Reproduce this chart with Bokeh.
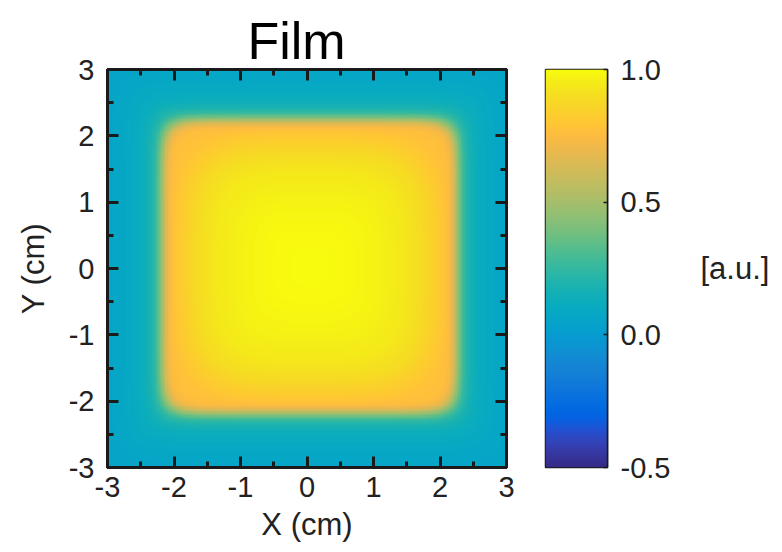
import numpy as np
from bokeh.plotting import figure
from bokeh.models import (LinearColorMapper, LinearAxis, FixedTicker, Range1d,
                          PrintfTickFormatter, CustomJSTickFormatter)
from bokeh.layouts import row
from bokeh.embed import file_html
from bokeh.resources import INLINE

# ---------------- texts / ticks ----------------
title_text = "Film"
x_label = "X (cm)"
y_label = "Y (cm)"
cbar_label = "[a.u.]"
axis_ticks = [-3, -2, -1, 0, 1, 2, 3]
axis_minor_ticks = [-2.5, -1.5, -0.5, 0.5, 1.5, 2.5]
cbar_ticks = [-0.5, 0.0, 0.5, 1.0]
value_low, value_high = -0.5, 1.0

# ---------------- field values ----------------
field_center_x = 0.04
field_center_y = 0.03
# in-field dose vs (rounded) distance from centre
dome_r = [0.0, 0.5, 1.0, 1.4, 1.7, 1.9, 2.1, 2.5, 4.5]
dome_val = [1.0, 0.99, 0.97, 0.94, 0.89, 0.83, 0.78, 0.76, 0.74]
# penumbra: fraction of in-field dose vs (rounded square) distance
pen_pos = [0.0, 1.95, 2.05, 2.12, 2.18, 2.22, 2.27, 2.33, 2.40, 2.50, 4.5]
pen_frac = [1.0, 1.0, 0.98, 0.92, 0.72, 0.50, 0.30, 0.12, 0.04, 0.0, 0.0]
# out-of-field level vs (rounded square) distance
bg_pos = [0.0, 2.2, 2.4, 2.6, 2.8, 3.0, 4.5]
bg_val = [0.22, 0.22, 0.16, 0.11, 0.08, 0.06, 0.05]

# ---------------- parula colormap ----------------
parula64 = [
    (0.2081, 0.1663, 0.5292), (0.2116, 0.1898, 0.5777), (0.2123, 0.2138, 0.6270),
    (0.2081, 0.2386, 0.6771), (0.1959, 0.2645, 0.7279), (0.1707, 0.2919, 0.7792),
    (0.1253, 0.3242, 0.8303), (0.0591, 0.3598, 0.8683), (0.0117, 0.3875, 0.8820),
    (0.0060, 0.4086, 0.8828), (0.0165, 0.4266, 0.8786), (0.0329, 0.4430, 0.8720),
    (0.0498, 0.4586, 0.8641), (0.0629, 0.4737, 0.8554), (0.0723, 0.4887, 0.8467),
    (0.0779, 0.5040, 0.8384), (0.0793, 0.5200, 0.8312), (0.0749, 0.5375, 0.8263),
    (0.0641, 0.5570, 0.8240), (0.0488, 0.5772, 0.8228), (0.0343, 0.5966, 0.8199),
    (0.0265, 0.6137, 0.8135), (0.0239, 0.6287, 0.8038), (0.0231, 0.6418, 0.7913),
    (0.0228, 0.6535, 0.7768), (0.0267, 0.6642, 0.7607), (0.0384, 0.6743, 0.7436),
    (0.0590, 0.6838, 0.7254), (0.0843, 0.6928, 0.7062), (0.1133, 0.7015, 0.6859),
    (0.1453, 0.7098, 0.6646), (0.1801, 0.7177, 0.6424), (0.2178, 0.7250, 0.6193),
    (0.2586, 0.7317, 0.5954), (0.3022, 0.7376, 0.5712), (0.3482, 0.7424, 0.5473),
    (0.3953, 0.7459, 0.5244), (0.4420, 0.7481, 0.5033), (0.4871, 0.7491, 0.4840),
    (0.5300, 0.7491, 0.4661), (0.5709, 0.7485, 0.4494), (0.6099, 0.7473, 0.4337),
    (0.6473, 0.7456, 0.4188), (0.6834, 0.7435, 0.4044), (0.7184, 0.7411, 0.3905),
    (0.7525, 0.7384, 0.3768), (0.7858, 0.7356, 0.3633), (0.8185, 0.7327, 0.3498),
    (0.8507, 0.7299, 0.3360), (0.8824, 0.7274, 0.3217), (0.9139, 0.7258, 0.3063),
    (0.9450, 0.7261, 0.2886), (0.9739, 0.7314, 0.2666), (0.9938, 0.7455, 0.2403),
    (0.9990, 0.7653, 0.2164), (0.9955, 0.7861, 0.1967), (0.9880, 0.8066, 0.1794),
    (0.9789, 0.8271, 0.1633), (0.9697, 0.8481, 0.1475), (0.9626, 0.8705, 0.1309),
    (0.9589, 0.8949, 0.1132), (0.9598, 0.9218, 0.0948), (0.9661, 0.9514, 0.0755),
    (0.9763, 0.9831, 0.0538)]
_p = np.array(parula64)
_t = np.linspace(0, 63, 256)
_rgb = np.stack([np.interp(_t, np.arange(64), _p[:, k]) for k in range(3)], axis=1)
palette = ["#%02x%02x%02x" % tuple(int(round(c * 255)) for c in col) for col in _rgb]

mapper = LinearColorMapper(palette=palette, low=value_low, high=value_high)

# ---------------- 2-D field built from the read profiles ----------------
grid = np.linspace(-3, 3, 301)
GX, GY = np.meshgrid(grid, grid)
dx = np.abs(GX - field_center_x)
dy = np.abs(GY - field_center_y)
r_sq = (dx ** 12 + dy ** 12) ** (1.0 / 12.0)
r_4 = (dx ** 4 + dy ** 4) ** (1.0 / 4.0)
bg = np.interp(r_sq, bg_pos, bg_val)
Z = bg + np.interp(r_sq, pen_pos, pen_frac) * (np.interp(r_4, dome_r, dome_val) - bg)

FONT = "Liberation Sans"
TICK_FS = "29px"
LABEL_FS = "31px"
INK = "#222222"
FRAME = "#1a1a1a"

# ---------------- main map ----------------
p = figure(width=530, height=552, x_range=Range1d(-3, 3), y_range=Range1d(-3, 3),
           min_border_left=107, min_border_right=24, min_border_top=67, min_border_bottom=85,
           toolbar_location=None, output_backend="svg", tools="",
           title=title_text)
p.image(image=[Z], x=-3, y=-3, dw=6, dh=6, color_mapper=mapper)
p.grid.visible = False
p.outline_line_color = FRAME
p.outline_line_width = 3
p.background_fill_color = "white"
p.border_fill_color = "white"

p.title.text_font = FONT
p.title.text_font_size = "52px"
p.title.text_font_style = "normal"
p.title.text_color = "black"
p.title.align = "left"
p.title.offset = 140
p.title.standoff = 0

bottom_axis = p.below[0]
left_axis = p.left[0]
top_axis = LinearAxis()
right_axis = LinearAxis()
p.add_layout(top_axis, "above")
p.add_layout(right_axis, "right")
for ax in (bottom_axis, left_axis, top_axis, right_axis):
    ax.ticker = FixedTicker(ticks=axis_ticks, minor_ticks=axis_minor_ticks)
    ax.formatter = PrintfTickFormatter(format="%d")
    ax.major_tick_in = 11
    ax.major_tick_out = 0
    ax.minor_tick_in = 6
    ax.minor_tick_out = 0
    ax.major_tick_line_width = 3
    ax.minor_tick_line_width = 3
    ax.major_tick_line_color = FRAME
    ax.minor_tick_line_color = FRAME
    ax.axis_line_width = 3
    ax.axis_line_color = FRAME
    ax.major_label_text_font = FONT
    ax.major_label_text_font_size = TICK_FS
    ax.major_label_text_color = INK
    ax.axis_label_text_font = FONT
    ax.axis_label_text_font_size = LABEL_FS
    ax.axis_label_text_font_style = "normal"
    ax.axis_label_text_color = INK
for ax in (top_axis, right_axis):
    ax.formatter = CustomJSTickFormatter(code="return ''")
    ax.major_label_standoff = 0

bottom_axis.major_label_standoff = 9
bottom_axis.axis_label = x_label
bottom_axis.axis_label_standoff = 7
left_axis.major_label_standoff = 13
left_axis.axis_label = y_label
left_axis.axis_label_standoff = 15

# ---------------- colour bar ----------------
cb = figure(width=252, height=552, x_range=Range1d(0, 1), y_range=Range1d(value_low, value_high),
            min_border_left=15, min_border_right=175, min_border_top=69, min_border_bottom=84,
            toolbar_location=None, output_backend="svg", tools="",
            x_axis_location=None, y_axis_location="right")
levels = np.linspace(value_low, value_high, 256).reshape(256, 1)
cb.image(image=[levels], x=0, y=value_low, dw=1, dh=value_high - value_low, color_mapper=mapper)
cb.grid.visible = False
cb.outline_line_color = FRAME
cb.outline_line_width = 1.5
cb.border_fill_color = "white"
ya = cb.right[0]
ya.ticker = FixedTicker(ticks=cbar_ticks, minor_ticks=[])
ya.formatter = PrintfTickFormatter(format="%.1f")
ya.major_tick_in = 4
ya.major_tick_out = 0
ya.major_tick_line_width = 1.5
ya.major_tick_line_color = FRAME
ya.axis_line_color = FRAME
ya.axis_line_width = 1.5
ya.major_label_standoff = 13
ya.major_label_text_font = FONT
ya.major_label_text_font_size = TICK_FS
ya.major_label_text_color = INK
ya.axis_label = cbar_label
ya.axis_label_orientation = "horizontal"
ya.axis_label_standoff = 27
ya.axis_label_text_font = FONT
ya.axis_label_text_font_size = LABEL_FS
ya.axis_label_text_font_style = "normal"
ya.axis_label_text_color = INK

layout = row(p, cb)
open("out.html", "w").write(file_html(layout, INLINE))
